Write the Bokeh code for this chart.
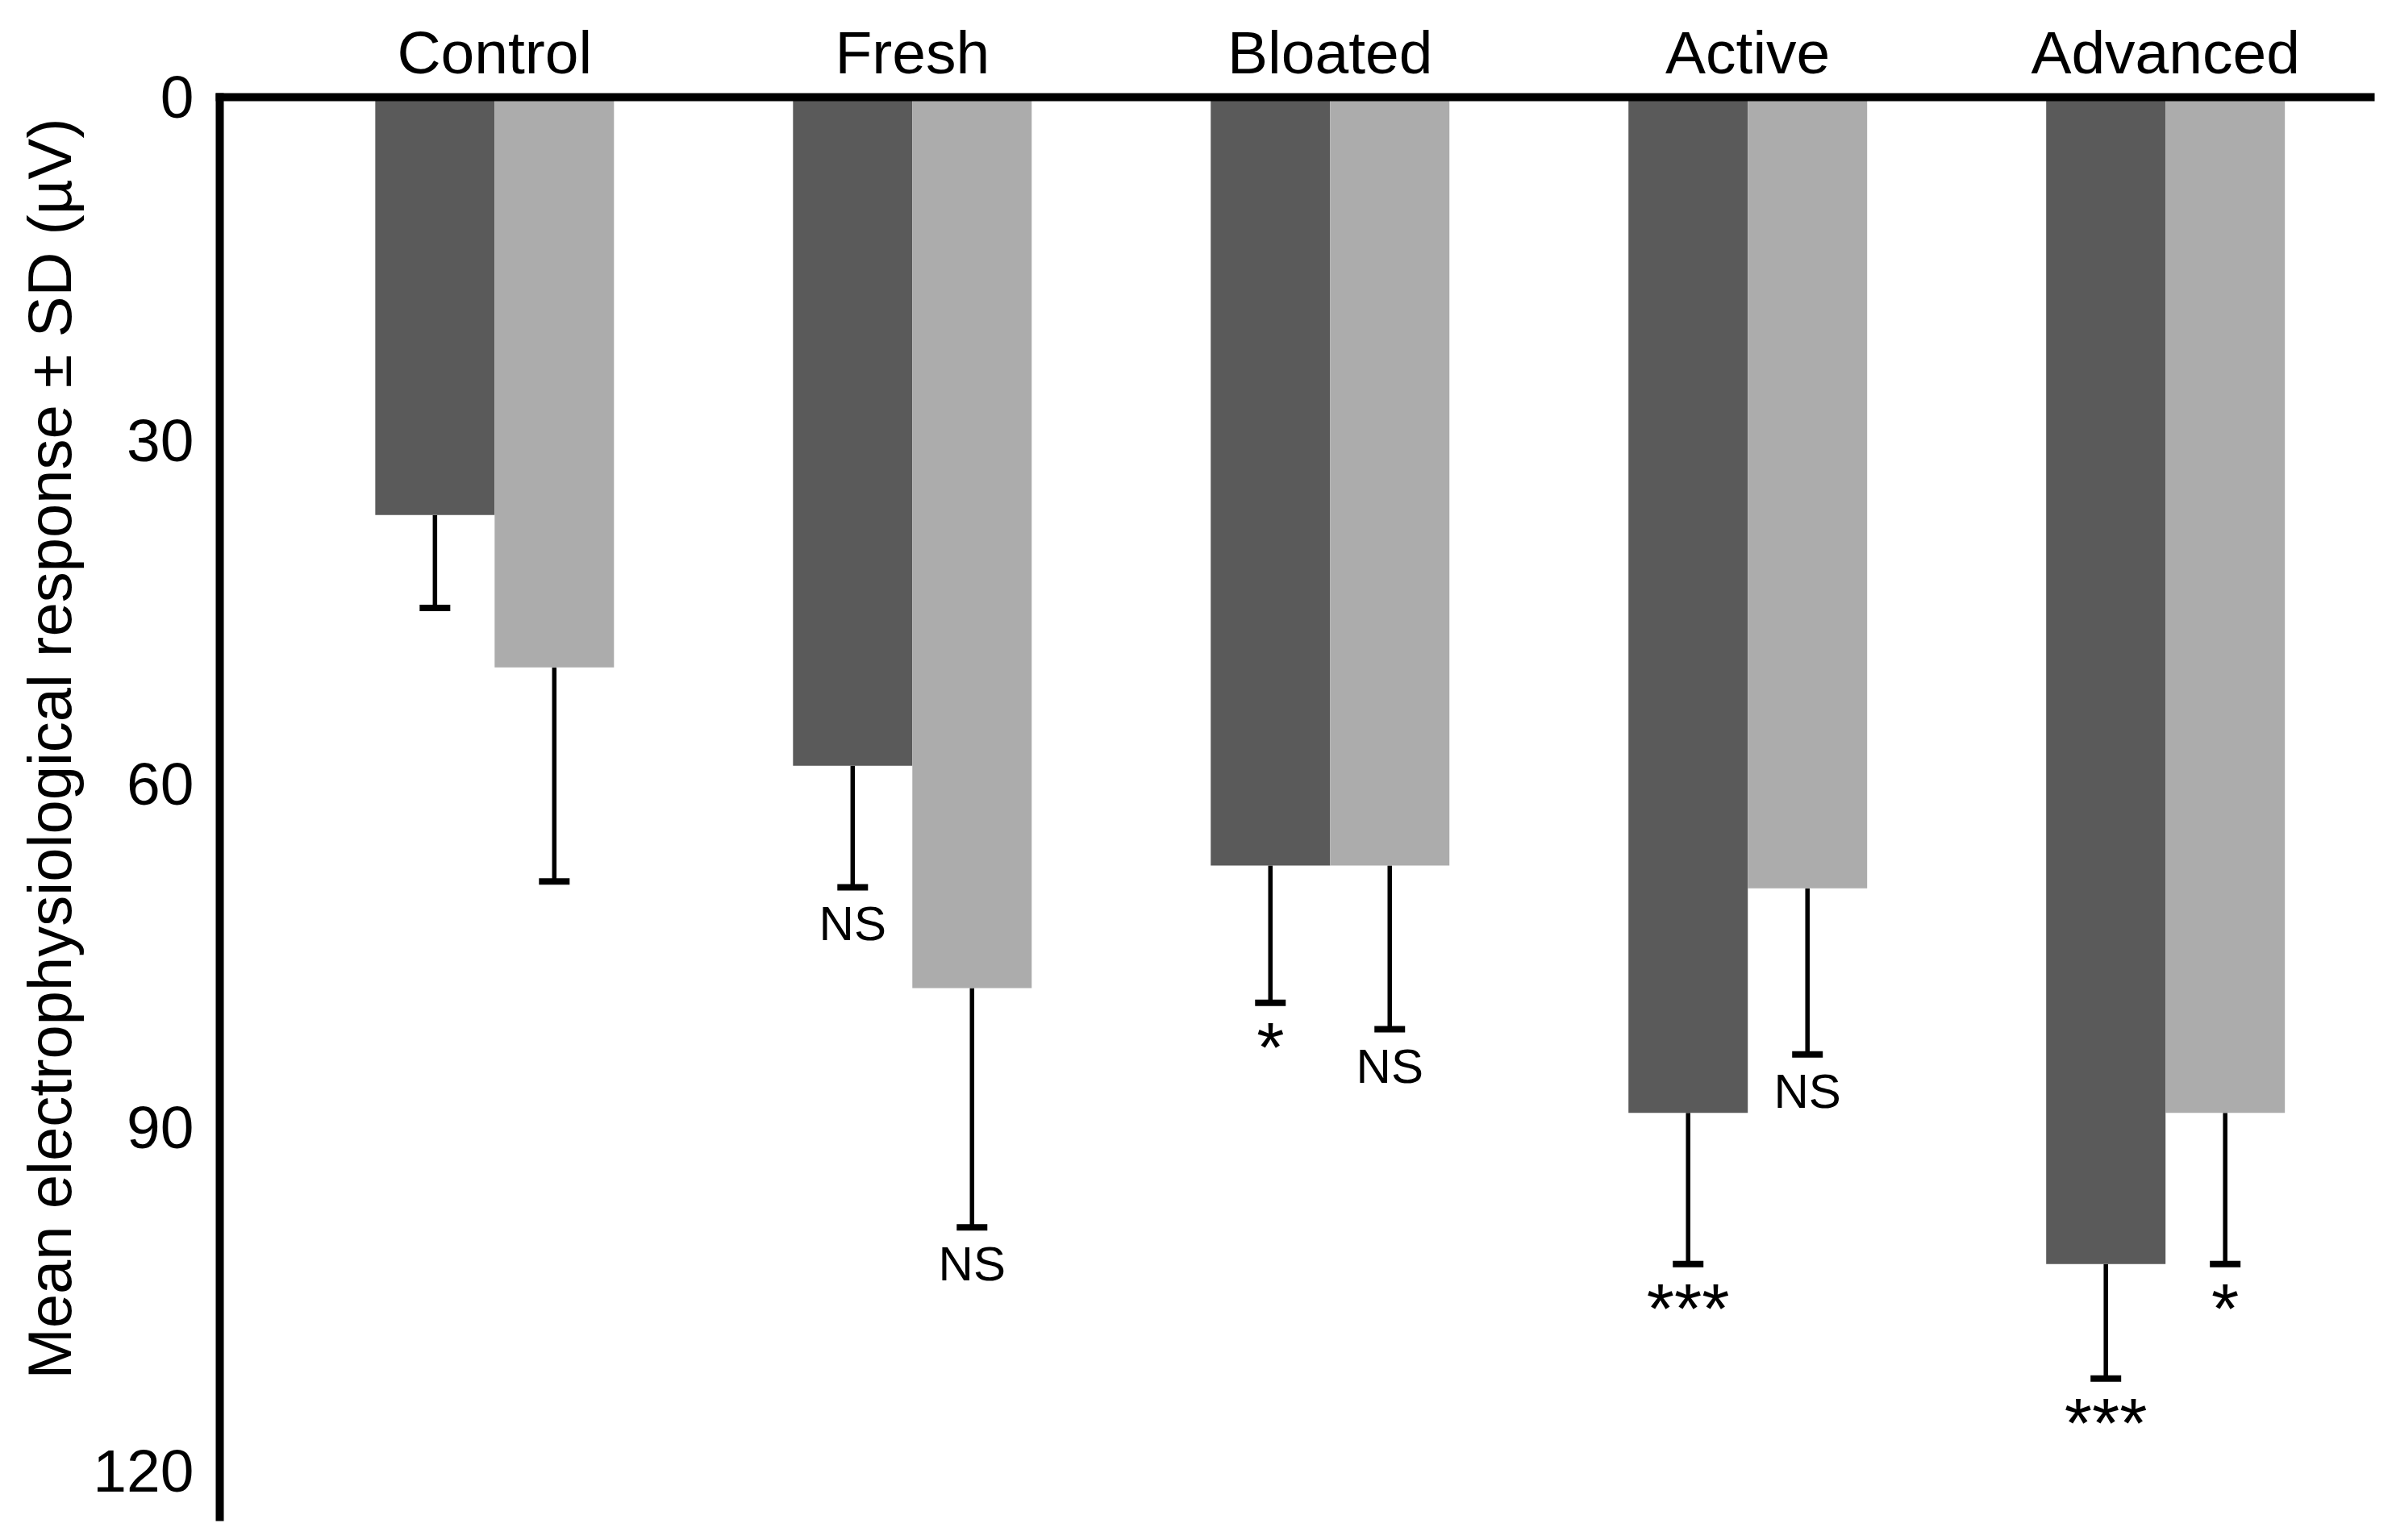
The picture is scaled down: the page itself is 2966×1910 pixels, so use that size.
from bokeh.plotting import figure
from bokeh.models import Range1d, FixedTicker, ColumnDataSource, Whisker, TeeHead, Title
from bokeh.core.properties import value
from bokeh.embed import file_html
from bokeh.resources import INLINE

# ---- data ----
categories = ["Control", "Fresh", "Bloated", "Active", "Advanced"]
dark_mean = [36.5, 58.4, 67.1, 88.7, 101.9]
dark_sd = [8.1, 10.6, 12.0, 13.2, 10.0]
light_mean = [49.8, 77.8, 67.1, 69.1, 88.7]
light_sd = [18.7, 20.9, 14.3, 14.5, 13.2]
dark_sig = ["", "NS", "*", "***", "***"]
light_sig = ["", "NS", "NS", "NS", "*"]
y_ticks = [0, 30, 60, 90, 120]
y_title = "Mean electrophysiological response ± SD (µV)"

FONT = "Liberation Sans"
DARK = "#5a5a5a"
LIGHT = "#acacac"
BAR_W = 0.2857

idx = list(range(len(categories)))
dark_x = [i - BAR_W / 2 for i in idx]
light_x = [i + BAR_W / 2 for i in idx]
dark_end = [m + s for m, s in zip(dark_mean, dark_sd)]
light_end = [m + s for m, s in zip(light_mean, light_sd)]

dark_src = ColumnDataSource(dict(x=dark_x, top=dark_mean, end=dark_end))
light_src = ColumnDataSource(dict(x=light_x, top=light_mean, end=light_end))

all_x = dark_x + light_x
all_end = dark_end + light_end
all_sig = dark_sig + light_sig
ns_src = ColumnDataSource(dict(
    x=[x for x, s in zip(all_x, all_sig) if s == "NS"],
    y=[y for y, s in zip(all_end, all_sig) if s == "NS"],
    t=[s for s in all_sig if s == "NS"]))
star_src = ColumnDataSource(dict(
    x=[x for x, s in zip(all_x, all_sig) if s.startswith("*")],
    y=[y for y, s in zip(all_end, all_sig) if s.startswith("*")],
    t=[s for s in all_sig if s.startswith("*")]))

p = figure(width=2958, height=1902, output_backend="svg", toolbar_location=None,
           x_range=Range1d(-0.658, 4.491), y_range=Range1d(124, 0),
           x_axis_location="above", min_border_left=272, min_border_top=120,
           min_border_right=19, min_border_bottom=21)
p.outline_line_color = None
p.xgrid.visible = False
p.ygrid.visible = False
p.background_fill_color = "white"
p.border_fill_color = "white"

p.vbar(x="x", top="top", bottom=0, width=BAR_W, source=dark_src,
       fill_color=DARK, line_color=None)
p.vbar(x="x", top="top", bottom=0, width=BAR_W, source=light_src,
       fill_color=LIGHT, line_color=None)

for src in (dark_src, light_src):
    w = Whisker(base="x", lower="top", upper="end", source=src,
                line_color="black", line_width=5.5,
                lower_head=None,
                upper_head=TeeHead(size=38, line_width=8, line_color="black"))
    p.add_layout(w)

p.text(x="x", y="y", text="t", source=ns_src, text_align="center",
       text_baseline="top", y_offset=12, text_font=value(FONT),
       text_font_size="60px", text_color="black")
p.text(x="x", y="y", text="t", source=star_src, text_align="center",
       text_baseline="top", y_offset=5, text_font=value(FONT),
       text_font_size="88px", text_color="black")

# x axis on top with category names
xa = p.xaxis[0]
xa.ticker = FixedTicker(ticks=idx)
xa.major_label_overrides = {i: c for i, c in zip(idx, categories)}
xa.major_label_text_font = FONT
xa.major_label_text_font_size = "75px"
xa.major_label_text_color = "black"
xa.major_label_standoff = 14
xa.major_tick_in = 0
xa.major_tick_out = 0
xa.minor_tick_in = 0
xa.minor_tick_out = 0
xa.axis_line_width = 10
xa.axis_line_color = "black"
xa.axis_line_cap = "square"

ya = p.yaxis[0]
ya.ticker = FixedTicker(ticks=y_ticks)
ya.major_label_text_font = FONT
ya.major_label_text_font_size = "75px"
ya.major_label_text_color = "black"
ya.major_label_standoff = 32
ya.major_tick_in = 0
ya.major_tick_out = 0
ya.minor_tick_in = 0
ya.minor_tick_out = 0
ya.axis_line_width = 10
ya.axis_line_color = "black"
ya.axis_line_cap = "square"

title = Title(text=y_title, align="left", offset=171,
              text_font=FONT, text_font_size="76px",
              text_font_style="normal", text_color="black")
if hasattr(title, "standoff"):
    title.standoff = 18
p.add_layout(title, "left")

open("out.html", "w").write(file_html(p, INLINE))
